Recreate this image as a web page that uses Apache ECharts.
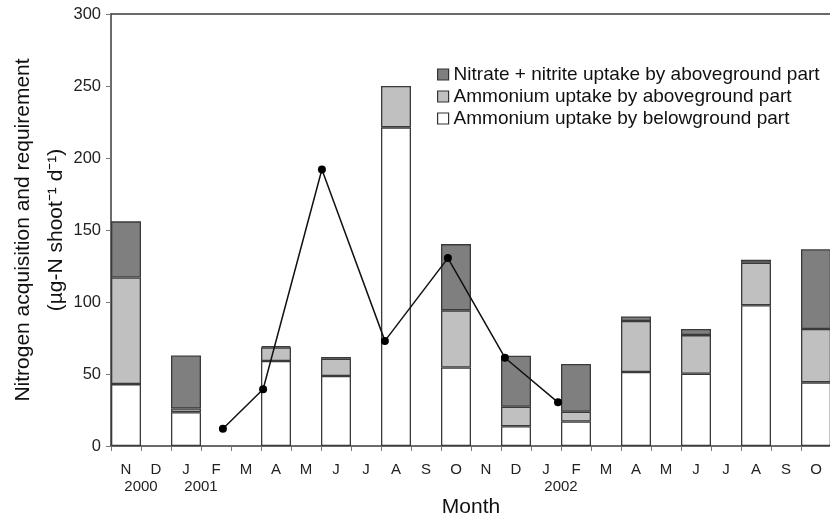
<!DOCTYPE html>
<html>
<head>
<meta charset="utf-8">
<script src="https://cdn.jsdelivr.net/npm/echarts@6/dist/echarts.min.js"></script>
<style>html,body{margin:0;padding:0;background:#fff}#c{width:830px;height:519px}</style>
</head>
<body>
<div id="c"></div>
<script>
var months = ['N','D','J','F','M','A','M','J','J','A','S','O','N','D','J','F','M','A','M','J','J','A','S','O'];
var yearLabels = {1:'2000', 3:'2001', 15:'2002'};
var belowground = [43,null,23.5,null,null,59,null,48.6,null,221.3,null,54.5,null,13.7,null,17,null,51.4,null,50.2,null,97.7,null,44.2];
var ammoniumAbove = [74,null,2.5,null,null,9.5,null,12,null,28.7,null,39.7,null,13.6,null,6.8,null,35.4,null,26.8,null,29.6,null,37.1];
var nitrateAbove = [39,null,36.8,null,null,0.9,null,1.2,null,null,null,46,null,35.4,null,33.1,null,3.2,null,4.3,null,2.1,null,55.3];
var requirementMonth = [3.73,5.07,7.03,9.13,11.23,13.13,14.9];
var requirementValue = [12,39.4,192,73,130.5,61.3,30.3];

var font = 'Liberation Sans';
var border = '#3a3a3a';
var chart = echarts.init(document.getElementById('c'));
var lineData = requirementMonth.map(function(m,i){return [m, requirementValue[i]];});
function barSeries(name, data, color){
  return {name:name, type:'bar', stack:'n', data:data, xAxisIndex:0, barCategoryGap:'0%',
    itemStyle:{color:color, borderColor:border, borderWidth:1.3}, emphasis:{disabled:true}};
}
chart.setOption({
  animation:false,
  grid:{left:111, top:14, width:720, height:432, outerBoundsMode:'none', containLabel:false},
  legend:{
    orient:'vertical', left:432, top:60, itemWidth:11, itemHeight:11, itemGap:3, icon:'rect',
    data:['Nitrate + nitrite uptake by aboveground part','Ammonium uptake by aboveground part','Ammonium uptake by belowground part'],
    textStyle:{fontFamily:font, fontSize:19, color:'#111'},
    itemStyle:{borderColor:'#333', borderWidth:1.2}
  },
  xAxis:[
    {type:'category', data:months, position:'bottom', boundaryGap:true,
     axisLine:{lineStyle:{color:border, width:1.5}},
     axisTick:{show:true, length:5, inside:false, lineStyle:{color:'#777'}},
     axisLabel:{fontFamily:font, fontSize:15, color:'#222', margin:16},
     name:'Month', nameLocation:'middle', nameGap:51, nameMoveOverlap:false,
     nameTextStyle:{fontFamily:font, fontSize:21, color:'#111'}},
    {type:'value', min:0, max:24, position:'top',
     axisLine:{show:true, onZero:false, lineStyle:{color:border, width:1.5}},
     axisTick:{show:false}, axisLabel:{show:false}, splitLine:{show:false}},
    {type:'value', min:0, max:24, interval:1, position:'bottom',
     axisLine:{show:false}, axisTick:{show:false}, splitLine:{show:false},
     axisLabel:{fontFamily:font, fontSize:15, color:'#222', margin:33, showMinLabel:true, showMaxLabel:true,
       formatter:function(v){return yearLabels[v] || '';}}}
  ],
  yAxis:{type:'value', min:0, max:300, interval:50,
    axisLine:{show:true, lineStyle:{color:border, width:1.5}},
    axisTick:{show:true, length:5, lineStyle:{color:'#777'}},
    splitLine:{show:false},
    axisLabel:{fontFamily:font, fontSize:16.5, color:'#222', margin:10},
    name:'Nitrogen acquisition and requirement\n(µg-N shoot\u207B\u00B9 d\u207B\u00B9)',
    nameLocation:'middle', nameGap:38, nameRotate:90, nameMoveOverlap:false,
    nameTextStyle:{fontFamily:font, fontSize:21, color:'#111', lineHeight:33}
  },
  series:[
    barSeries('Ammonium uptake by belowground part', belowground, '#ffffff'),
    barSeries('Ammonium uptake by aboveground part', ammoniumAbove, '#c0c0c0'),
    barSeries('Nitrate + nitrite uptake by aboveground part', nitrateAbove, '#7f7f7f'),
    {name:'Requirement', type:'line', xAxisIndex:1, data:lineData, symbol:'circle', symbolSize:8,
     lineStyle:{color:'#111', width:1.5}, itemStyle:{color:'#000'}, z:5, emphasis:{disabled:true}}
  ]
});
</script>
</body>
</html>
